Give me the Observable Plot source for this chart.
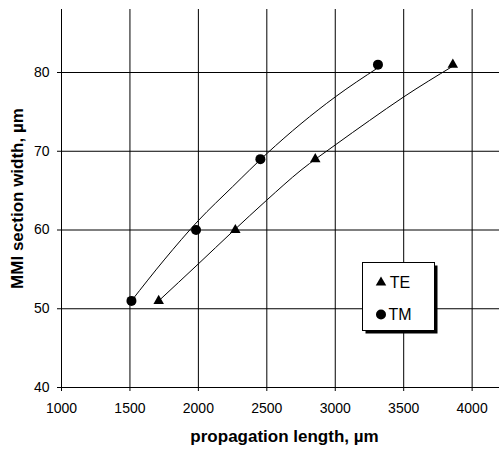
<!DOCTYPE html>
<html>
<head>
<meta charset="utf-8">
<script src="https://cdn.jsdelivr.net/npm/d3@7"></script>
<script src="https://cdn.jsdelivr.net/npm/@observablehq/plot@0.6"></script>
<style>
  html, body { margin: 0; padding: 0; background: #fff; }
  svg { font-family: "Liberation Sans", Arial, sans-serif; }
</style>
</head>
<body>
<div id="chart"></div>
<script>
// Measured points
const teLength = [1710, 2270, 2854, 3859];
const teWidth  = [51, 60, 69, 81];
const tmLength = [1511, 1983, 2453, 3312];
const tmWidth  = [51, 60, 69, 81];

// Trend curves
const teCurveX = [1710, 2000, 2250, 2500, 2750, 3000, 3250, 3500, 3859];
const teCurveY = [51.0, 55.7, 59.8, 63.8, 67.6, 70.8, 73.9, 76.9, 80.8];
const tmCurveX = [1511, 1750, 2000, 2250, 2500, 2750, 3000, 3312];
const tmCurveY = [51.0, 56.2, 61.2, 65.5, 69.7, 73.5, 76.9, 80.6];

const xTicks = [1000, 1500, 2000, 2500, 3000, 3500, 4000];
const yTicks = [40, 50, 60, 70, 80];
const seriesNames = ["TE", "TM"];
const xTitle = "propagation length, µm";
const yTitle = "MMI section width, µm";

const te = teLength.map((x, i) => ({x, y: teWidth[i]}));
const tm = tmLength.map((x, i) => ({x, y: tmWidth[i]}));
const teCurve = teCurveX.map((x, i) => ({x, y: teCurveY[i]}));
const tmCurve = tmCurveX.map((x, i) => ({x, y: tmCurveY[i]}));

const chart = Plot.plot({
  width: 500,
  height: 450,
  marginLeft: 61,
  marginRight: 1,
  marginTop: 9,
  marginBottom: 63,
  style: {fontFamily: "Liberation Sans, Arial, sans-serif", fontSize: "14px", color: "#000", background: "#fff"},
  x: {domain: [1000, 4200]},
  y: {domain: [40, 88]},
  marks: [
    Plot.gridX(xTicks, {stroke: "#000", strokeOpacity: 1, strokeWidth: 1}),
    Plot.gridY(yTicks, {stroke: "#000", strokeOpacity: 1, strokeWidth: 1}),
    Plot.ruleX([1000], {stroke: "#000"}),
    Plot.ruleY([40], {stroke: "#000"}),
    Plot.axisX({ticks: xTicks, tickSize: 4, tickPadding: 12, fontSize: 14, label: null, tickFormat: d => String(d)}),
    Plot.axisY({ticks: yTicks, tickSize: 4, tickPadding: 8, fontSize: 14, label: null}),
    Plot.line(teCurve, {x: "x", y: "y", curve: "monotone-x", stroke: "#000", strokeWidth: 1}),
    Plot.line(tmCurve, {x: "x", y: "y", curve: "monotone-x", stroke: "#000", strokeWidth: 1}),
    Plot.dot(te, {x: "x", y: "y", symbol: "triangle", r: 3.9, fill: "#000", stroke: "none"}),
    Plot.dot(tm, {x: "x", y: "y", symbol: "circle", r: 5, fill: "#000", stroke: "none"}),
    Plot.text([xTitle], {frameAnchor: "bottom", textAnchor: "middle", dx: 4, dy: 54, lineAnchor: "bottom", fontSize: 17, fontWeight: "bold", fill: "#000"}),
    Plot.text([yTitle], {frameAnchor: "left", textAnchor: "middle", dx: -39, rotate: -90, lineAnchor: "bottom", fontSize: 17, fontWeight: "bold", fill: "#000"})
  ]
});

// Legend box
const svg = d3.select(chart);
const lg = svg.append("g").attr("class", "legend");
lg.append("rect").attr("x", 365.5).attr("y", 265.5).attr("width", 72).attr("height", 68).attr("fill", "#000");
lg.append("rect").attr("x", 362.5).attr("y", 262.5).attr("width", 72).attr("height", 68).attr("fill", "#fff").attr("stroke", "#000");
const symbols = [d3.symbolTriangle, d3.symbolCircle];
const sizes = [Math.PI * 3.9 * 3.9, Math.PI * 25];
seriesNames.forEach((name, i) => {
  const cy = 282.5 + i * 32;
  lg.append("path").attr("d", d3.symbol(symbols[i], sizes[i])()).attr("transform", `translate(381,${cy})`).attr("fill", "#000");
  lg.append("text").attr("x", 400).attr("y", cy).attr("dy", "0.36em").attr("font-size", 16).attr("fill", "#000").text(name);
});

document.getElementById("chart").appendChild(chart);
</script>
</body>
</html>
